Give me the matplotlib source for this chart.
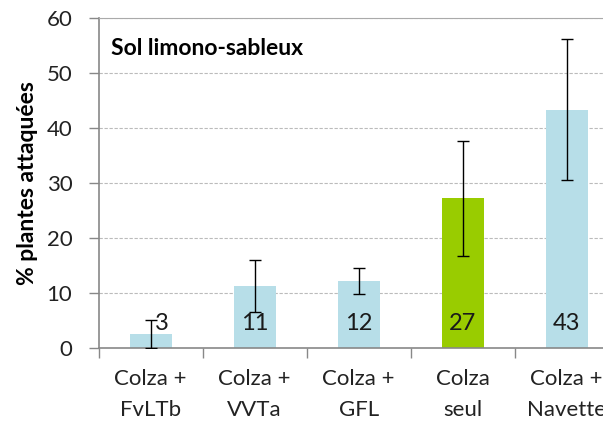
import matplotlib
matplotlib.use("Agg")
import matplotlib.pyplot as plt
import numpy as np

# data
categories = ["Colza +\nFvLTb", "Colza +\nVVTa", "Colza +\nGFL", "Colza\nseul", "Colza +\nNavette"]
values = [2.6, 11.3, 12.2, 27.2, 43.3]
errors = [2.5, 4.7, 2.3, 10.4, 12.8]
labels = ["3", "11", "12", "27", "43"]
colors = ["#B7DEE8", "#B7DEE8", "#B7DEE8", "#99CC00", "#B7DEE8"]

plt.rcParams["font.family"] = ["Lato", "DejaVu Sans"]

fig = plt.figure(figsize=(6.03, 4.29), dpi=100)
ax = fig.add_axes([0.1637, 0.1881, 0.8624, 0.7711])

x = np.arange(len(categories))
ax.bar(x, values, width=0.4, color=colors, zorder=2)
ax.errorbar(x, values, yerr=errors, fmt="none", ecolor="black",
            elinewidth=1.0, capsize=4, capthick=1.0, zorder=3)

for i, (v, lab) in enumerate(zip(values, labels)):
    dx = 0.11 if v < 4 else 0.0
    ax.text(i + dx, 4.5, lab, ha="center", va="center", fontsize=17, color="#1a1a1a", zorder=4)

ax.set_xlim(-0.5, len(categories) - 0.5)
ax.set_ylim(0, 60)
ax.set_yticks(range(0, 61, 10))
ax.set_xticks(x)
ax.set_xticklabels(categories, fontsize=16, linespacing=1.65)
ax.set_xticks(np.arange(-0.5, len(categories), 1.0), minor=True)
ax.tick_params(axis="x", which="major", length=0, pad=15)
ax.tick_params(axis="x", which="minor", length=7, color="#888888", width=1)
ax.tick_params(axis="y", length=7, color="#888888", width=1, labelsize=16, pad=12,
               labelcolor="#222222")
ax.tick_params(axis="x", labelcolor="#222222")

ax.grid(axis="y", linestyle=(0, (3, 1.5)), color="#BBBBBB", linewidth=0.8, zorder=0)
ax.spines["right"].set_visible(False)
ax.spines["top"].set_color("#AAAAAA")
ax.spines["left"].set_color("#888888")
ax.spines["bottom"].set_color("#888888")
ax.spines["left"].set_linewidth(1.2)
ax.spines["bottom"].set_linewidth(1.2)

ax.text(-0.385, 54.3, "Sol limono-sableux", fontsize=16.5, fontweight="bold", va="center", ha="left")
ax.set_ylabel("% plantes attaquées", fontsize=16.5, fontweight="bold", labelpad=6)

fig.savefig("out.png", dpi=100)
